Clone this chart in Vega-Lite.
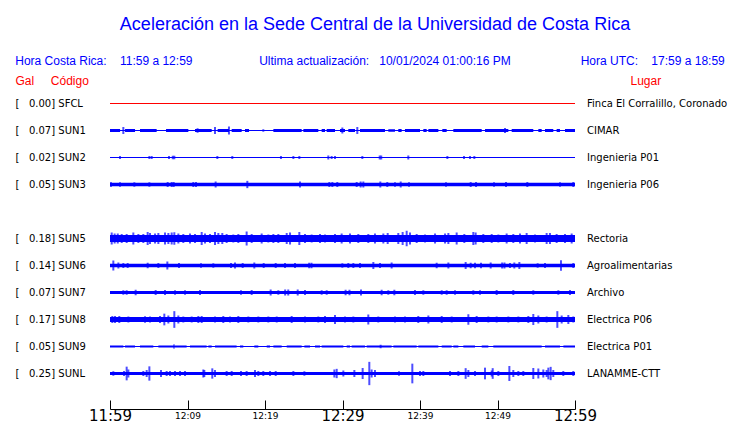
{
  "$schema": "https://vega.github.io/schema/vega-lite/v6.json",
  "width": 465,
  "height": 297,
  "autosize": {"type": "none"},
  "padding": {"top": 90, "left": 110, "right": 165, "bottom": 36},
  "background": "white",
  "view": {"stroke": null},
  "title": {
    "text": "Aceleración en la Sede Central de la Universidad de Costa Rica",
    "subtitle": "Hora Costa Rica:\u00a0\u00a0\u00a0\u00a011:59 a 12:59\u00a0\u00a0\u00a0\u00a0\u00a0\u00a0\u00a0\u00a0\u00a0\u00a0\u00a0\u00a0\u00a0\u00a0\u00a0\u00a0\u00a0\u00a0\u00a0\u00a0Ultima actualización:\u00a0\u00a0\u00a010/01/2024 01:00:16 PM\u00a0\u00a0\u00a0\u00a0\u00a0\u00a0\u00a0\u00a0\u00a0\u00a0\u00a0\u00a0\u00a0\u00a0\u00a0\u00a0\u00a0\u00a0\u00a0\u00a0\u00a0Hora UTC:\u00a0\u00a0\u00a0\u00a017:59 a 18:59\u00a0\u00a0\u00a0\u200b",
    "anchor": "middle",
    "frame": "group",
    "dx": 32.5,
    "font": "Liberation Sans",
    "fontSize": 18,
    "fontWeight": "normal",
    "color": "#0000ff",
    "subtitleFont": "Liberation Sans",
    "subtitleFontSize": 12,
    "subtitleColor": "#0000ff",
    "subtitlePadding": 22,
    "offset": 8
  },
  "datasets": {
    "estaciones": [
      {"codigo": "SFCL", "etiqueta": "[\u00a0\u00a0\u00a00.00] SFCL", "lugar": "Finca El Corralillo, Coronado"},
      {"codigo": "SUN1", "etiqueta": "[\u00a0\u00a0\u00a00.07] SUN1", "lugar": "CIMAR"},
      {"codigo": "SUN2", "etiqueta": "[\u00a0\u00a0\u00a00.02] SUN2", "lugar": "Ingenieria P01"},
      {"codigo": "SUN3", "etiqueta": "[\u00a0\u00a0\u00a00.05] SUN3", "lugar": "Ingenieria P06"},
      {"codigo": "SUN5", "etiqueta": "[\u00a0\u00a0\u00a00.18] SUN5", "lugar": "Rectoria"},
      {"codigo": "SUN6", "etiqueta": "[\u00a0\u00a0\u00a00.14] SUN6", "lugar": "Agroalimentarias"},
      {"codigo": "SUN7", "etiqueta": "[\u00a0\u00a0\u00a00.07] SUN7", "lugar": "Archivo"},
      {"codigo": "SUN8", "etiqueta": "[\u00a0\u00a0\u00a00.17] SUN8", "lugar": "Electrica P06"},
      {"codigo": "SUN9", "etiqueta": "[\u00a0\u00a0\u00a00.05] SUN9", "lugar": "Electrica P01"},
      {"codigo": "SUNL", "etiqueta": "[\u00a0\u00a0\u00a00.25] SUNL", "lugar": "LANAMME-CTT"}
    ],
    "segmentos": [
      {"codigo": "SFCL", "t0": 0, "t1": 60, "amp": 1},
      {"codigo": "SUN1", "t0": 0, "t1": 60, "amp": 1},
      {"codigo": "SUN1", "t0": 0, "t1": 1.3, "amp": 3},
      {"codigo": "SUN1", "t0": 1.94, "t1": 3.23, "amp": 3},
      {"codigo": "SUN1", "t0": 3.87, "t1": 6.02, "amp": 3},
      {"codigo": "SUN1", "t0": 7.23, "t1": 10.11, "amp": 3},
      {"codigo": "SUN1", "t0": 10.97, "t1": 13.12, "amp": 3},
      {"codigo": "SUN1", "t0": 13.89, "t1": 15.35, "amp": 3},
      {"codigo": "SUN1", "t0": 15.7, "t1": 16.99, "amp": 3},
      {"codigo": "SUN1", "t0": 17.42, "t1": 17.94, "amp": 3},
      {"codigo": "SUN1", "t0": 21.08, "t1": 24.73, "amp": 3},
      {"codigo": "SUN1", "t0": 24.95, "t1": 26.88, "amp": 3},
      {"codigo": "SUN1", "t0": 27.31, "t1": 27.74, "amp": 3},
      {"codigo": "SUN1", "t0": 27.96, "t1": 29.03, "amp": 3},
      {"codigo": "SUN1", "t0": 29.68, "t1": 30.32, "amp": 3},
      {"codigo": "SUN1", "t0": 30.75, "t1": 31.61, "amp": 3},
      {"codigo": "SUN1", "t0": 32.26, "t1": 35.48, "amp": 3},
      {"codigo": "SUN1", "t0": 35.91, "t1": 36.77, "amp": 2.5},
      {"codigo": "SUN1", "t0": 37.2, "t1": 37.63, "amp": 3},
      {"codigo": "SUN1", "t0": 38.06, "t1": 40.0, "amp": 3},
      {"codigo": "SUN1", "t0": 40.43, "t1": 40.86, "amp": 3},
      {"codigo": "SUN1", "t0": 41.08, "t1": 42.37, "amp": 3},
      {"codigo": "SUN1", "t0": 42.88, "t1": 43.44, "amp": 3},
      {"codigo": "SUN1", "t0": 44.3, "t1": 47.96, "amp": 3},
      {"codigo": "SUN1", "t0": 48.39, "t1": 51.4, "amp": 3},
      {"codigo": "SUN1", "t0": 51.83, "t1": 54.62, "amp": 3},
      {"codigo": "SUN1", "t0": 55.27, "t1": 55.7, "amp": 3},
      {"codigo": "SUN1", "t0": 56.13, "t1": 57.2, "amp": 3},
      {"codigo": "SUN1", "t0": 57.63, "t1": 58.06, "amp": 3},
      {"codigo": "SUN1", "t0": 58.71, "t1": 60, "amp": 3},
      {"codigo": "SUN2", "t0": 0, "t1": 60, "amp": 1},
      {"codigo": "SUN3", "t0": 0, "t1": 60, "amp": 3.3},
      {"codigo": "SUN5", "t0": 0, "t1": 60, "amp": 7},
      {"codigo": "SUN6", "t0": 0, "t1": 60, "amp": 3.7},
      {"codigo": "SUN7", "t0": 0, "t1": 60, "amp": 3},
      {"codigo": "SUN8", "t0": 0, "t1": 60, "amp": 5},
      {"codigo": "SUN9", "t0": 0, "t1": 60, "amp": 1},
      {"codigo": "SUN9", "t0": 0, "t1": 1.72, "amp": 2},
      {"codigo": "SUN9", "t0": 1.94, "t1": 3.23, "amp": 2},
      {"codigo": "SUN9", "t0": 3.87, "t1": 5.59, "amp": 2},
      {"codigo": "SUN9", "t0": 6.24, "t1": 8.17, "amp": 2},
      {"codigo": "SUN9", "t0": 8.39, "t1": 9.89, "amp": 2},
      {"codigo": "SUN9", "t0": 10.32, "t1": 12.47, "amp": 2},
      {"codigo": "SUN9", "t0": 12.69, "t1": 13.12, "amp": 2},
      {"codigo": "SUN9", "t0": 13.55, "t1": 16.34, "amp": 2},
      {"codigo": "SUN9", "t0": 16.77, "t1": 17.2, "amp": 2},
      {"codigo": "SUN9", "t0": 18.62, "t1": 19.14, "amp": 2},
      {"codigo": "SUN9", "t0": 20.22, "t1": 20.65, "amp": 2},
      {"codigo": "SUN9", "t0": 21.08, "t1": 22.15, "amp": 2},
      {"codigo": "SUN9", "t0": 22.8, "t1": 24.73, "amp": 2},
      {"codigo": "SUN9", "t0": 25.08, "t1": 25.81, "amp": 2},
      {"codigo": "SUN9", "t0": 26.45, "t1": 27.1, "amp": 2},
      {"codigo": "SUN9", "t0": 27.31, "t1": 30.11, "amp": 2},
      {"codigo": "SUN9", "t0": 30.54, "t1": 30.97, "amp": 2},
      {"codigo": "SUN9", "t0": 31.18, "t1": 32.9, "amp": 2},
      {"codigo": "SUN9", "t0": 33.12, "t1": 36.34, "amp": 2},
      {"codigo": "SUN9", "t0": 36.56, "t1": 39.57, "amp": 2},
      {"codigo": "SUN9", "t0": 39.78, "t1": 42.37, "amp": 2},
      {"codigo": "SUN9", "t0": 42.8, "t1": 44.09, "amp": 2},
      {"codigo": "SUN9", "t0": 44.3, "t1": 44.95, "amp": 2},
      {"codigo": "SUN9", "t0": 45.59, "t1": 47.1, "amp": 2},
      {"codigo": "SUN9", "t0": 47.96, "t1": 48.82, "amp": 2},
      {"codigo": "SUN9", "t0": 49.46, "t1": 55.7, "amp": 2},
      {"codigo": "SUN9", "t0": 56.13, "t1": 58.06, "amp": 2},
      {"codigo": "SUN9", "t0": 58.5, "t1": 60, "amp": 2},
      {"codigo": "SUNL", "t0": 0, "t1": 60, "amp": 3}
    ],
    "picos": [
      {"codigo": "SUN1", "t": 1.72, "amp": 7},
      {"codigo": "SUN1", "t": 11.3, "amp": 4.5},
      {"codigo": "SUN1", "t": 13.55, "amp": 7},
      {"codigo": "SUN1", "t": 15.35, "amp": 8},
      {"codigo": "SUN1", "t": 19.78, "amp": 2.5},
      {"codigo": "SUN1", "t": 29.98, "amp": 6},
      {"codigo": "SUN1", "t": 31.91, "amp": 7},
      {"codigo": "SUN1", "t": 50.97, "amp": 5},
      {"codigo": "SUN2", "t": 1.29, "amp": 3},
      {"codigo": "SUN2", "t": 5.08, "amp": 3},
      {"codigo": "SUN2", "t": 5.38, "amp": 3},
      {"codigo": "SUN2", "t": 7.61, "amp": 3},
      {"codigo": "SUN2", "t": 8.1, "amp": 3.5},
      {"codigo": "SUN2", "t": 8.3, "amp": 3.5},
      {"codigo": "SUN2", "t": 13.85, "amp": 3},
      {"codigo": "SUN2", "t": 15.78, "amp": 3},
      {"codigo": "SUN2", "t": 22.06, "amp": 3},
      {"codigo": "SUN2", "t": 23.66, "amp": 3},
      {"codigo": "SUN2", "t": 24.43, "amp": 3},
      {"codigo": "SUN2", "t": 28.17, "amp": 4},
      {"codigo": "SUN2", "t": 28.6, "amp": 3},
      {"codigo": "SUN2", "t": 29.03, "amp": 3},
      {"codigo": "SUN2", "t": 32.56, "amp": 3},
      {"codigo": "SUN2", "t": 34.8, "amp": 4},
      {"codigo": "SUN2", "t": 35.0, "amp": 4},
      {"codigo": "SUN2", "t": 38.49, "amp": 4},
      {"codigo": "SUN2", "t": 43.53, "amp": 3},
      {"codigo": "SUN2", "t": 45.68, "amp": 3},
      {"codigo": "SUN2", "t": 46.45, "amp": 3},
      {"codigo": "SUN2", "t": 47.01, "amp": 3},
      {"codigo": "SUN3", "t": 0.13, "amp": 4.7},
      {"codigo": "SUN3", "t": 1.29, "amp": 4.5},
      {"codigo": "SUN3", "t": 3.14, "amp": 4.5},
      {"codigo": "SUN3", "t": 5.08, "amp": 4.5},
      {"codigo": "SUN3", "t": 7.44, "amp": 5},
      {"codigo": "SUN3", "t": 7.96, "amp": 5},
      {"codigo": "SUN3", "t": 8.22, "amp": 5},
      {"codigo": "SUN3", "t": 10.75, "amp": 5},
      {"codigo": "SUN3", "t": 11.1, "amp": 5},
      {"codigo": "SUN3", "t": 13.63, "amp": 6},
      {"codigo": "SUN3", "t": 17.72, "amp": 7.3},
      {"codigo": "SUN3", "t": 24.52, "amp": 6},
      {"codigo": "SUN3", "t": 28.3, "amp": 5},
      {"codigo": "SUN3", "t": 28.69, "amp": 5},
      {"codigo": "SUN3", "t": 29.33, "amp": 5},
      {"codigo": "SUN3", "t": 31.83, "amp": 5},
      {"codigo": "SUN3", "t": 32.34, "amp": 6},
      {"codigo": "SUN3", "t": 32.69, "amp": 6},
      {"codigo": "SUN3", "t": 34.88, "amp": 6},
      {"codigo": "SUN3", "t": 35.78, "amp": 5},
      {"codigo": "SUN3", "t": 36.77, "amp": 4.5},
      {"codigo": "SUN3", "t": 37.51, "amp": 6},
      {"codigo": "SUN3", "t": 38.58, "amp": 4.5},
      {"codigo": "SUN3", "t": 43.35, "amp": 4.5},
      {"codigo": "SUN3", "t": 46.54, "amp": 5},
      {"codigo": "SUN3", "t": 47.23, "amp": 5},
      {"codigo": "SUN3", "t": 49.55, "amp": 4.5},
      {"codigo": "SUN3", "t": 51.1, "amp": 5},
      {"codigo": "SUN3", "t": 53.85, "amp": 5},
      {"codigo": "SUN3", "t": 58.06, "amp": 4.5},
      {"codigo": "SUN3", "t": 59.78, "amp": 5},
      {"codigo": "SUN5", "t": 0.22, "amp": 12},
      {"codigo": "SUN5", "t": 0.6, "amp": 10},
      {"codigo": "SUN5", "t": 1.0, "amp": 10},
      {"codigo": "SUN5", "t": 1.51, "amp": 9},
      {"codigo": "SUN5", "t": 2.15, "amp": 9},
      {"codigo": "SUN5", "t": 3.01, "amp": 12},
      {"codigo": "SUN5", "t": 3.66, "amp": 9},
      {"codigo": "SUN5", "t": 4.3, "amp": 9},
      {"codigo": "SUN5", "t": 4.86, "amp": 13},
      {"codigo": "SUN5", "t": 5.16, "amp": 11},
      {"codigo": "SUN5", "t": 5.81, "amp": 10},
      {"codigo": "SUN5", "t": 6.24, "amp": 11},
      {"codigo": "SUN5", "t": 7.1, "amp": 12},
      {"codigo": "SUN5", "t": 7.53, "amp": 11},
      {"codigo": "SUN5", "t": 7.96, "amp": 12},
      {"codigo": "SUN5", "t": 8.3, "amp": 12.5},
      {"codigo": "SUN5", "t": 8.82, "amp": 10},
      {"codigo": "SUN5", "t": 9.46, "amp": 9},
      {"codigo": "SUN5", "t": 10.32, "amp": 10},
      {"codigo": "SUN5", "t": 10.97, "amp": 9},
      {"codigo": "SUN5", "t": 11.83, "amp": 13},
      {"codigo": "SUN5", "t": 12.26, "amp": 10},
      {"codigo": "SUN5", "t": 12.9, "amp": 9},
      {"codigo": "SUN5", "t": 13.55, "amp": 13},
      {"codigo": "SUN5", "t": 13.98, "amp": 11},
      {"codigo": "SUN5", "t": 14.49, "amp": 11},
      {"codigo": "SUN5", "t": 15.05, "amp": 9},
      {"codigo": "SUN5", "t": 15.91, "amp": 8},
      {"codigo": "SUN5", "t": 16.56, "amp": 9},
      {"codigo": "SUN5", "t": 17.63, "amp": 14},
      {"codigo": "SUN5", "t": 18.28, "amp": 9},
      {"codigo": "SUN5", "t": 19.57, "amp": 10},
      {"codigo": "SUN5", "t": 20.43, "amp": 8},
      {"codigo": "SUN5", "t": 21.08, "amp": 9},
      {"codigo": "SUN5", "t": 21.72, "amp": 9},
      {"codigo": "SUN5", "t": 22.8, "amp": 11},
      {"codigo": "SUN5", "t": 23.23, "amp": 12},
      {"codigo": "SUN5", "t": 24.43, "amp": 13},
      {"codigo": "SUN5", "t": 25.16, "amp": 9},
      {"codigo": "SUN5", "t": 26.02, "amp": 8},
      {"codigo": "SUN5", "t": 27.1, "amp": 9},
      {"codigo": "SUN5", "t": 27.74, "amp": 8},
      {"codigo": "SUN5", "t": 29.03, "amp": 9},
      {"codigo": "SUN5", "t": 29.89, "amp": 10},
      {"codigo": "SUN5", "t": 30.97, "amp": 10},
      {"codigo": "SUN5", "t": 32.04, "amp": 9},
      {"codigo": "SUN5", "t": 33.33, "amp": 9},
      {"codigo": "SUN5", "t": 34.19, "amp": 10},
      {"codigo": "SUN5", "t": 35.27, "amp": 10},
      {"codigo": "SUN5", "t": 35.83, "amp": 11},
      {"codigo": "SUN5", "t": 37.2, "amp": 11},
      {"codigo": "SUN5", "t": 37.76, "amp": 13},
      {"codigo": "SUN5", "t": 38.28, "amp": 15.5},
      {"codigo": "SUN5", "t": 38.71, "amp": 12},
      {"codigo": "SUN5", "t": 39.57, "amp": 9},
      {"codigo": "SUN5", "t": 40.65, "amp": 8},
      {"codigo": "SUN5", "t": 41.94, "amp": 10},
      {"codigo": "SUN5", "t": 43.23, "amp": 10},
      {"codigo": "SUN5", "t": 43.66, "amp": 11},
      {"codigo": "SUN5", "t": 44.73, "amp": 12},
      {"codigo": "SUN5", "t": 45.72, "amp": 9},
      {"codigo": "SUN5", "t": 46.88, "amp": 13},
      {"codigo": "SUN5", "t": 47.18, "amp": 12},
      {"codigo": "SUN5", "t": 48.17, "amp": 9},
      {"codigo": "SUN5", "t": 49.25, "amp": 9},
      {"codigo": "SUN5", "t": 50.11, "amp": 8},
      {"codigo": "SUN5", "t": 51.18, "amp": 10},
      {"codigo": "SUN5", "t": 52.04, "amp": 9},
      {"codigo": "SUN5", "t": 52.9, "amp": 10},
      {"codigo": "SUN5", "t": 53.76, "amp": 11},
      {"codigo": "SUN5", "t": 54.84, "amp": 8},
      {"codigo": "SUN5", "t": 56.34, "amp": 11},
      {"codigo": "SUN5", "t": 56.77, "amp": 11},
      {"codigo": "SUN5", "t": 57.63, "amp": 9},
      {"codigo": "SUN5", "t": 58.71, "amp": 9},
      {"codigo": "SUN5", "t": 59.57, "amp": 10},
      {"codigo": "SUN6", "t": 0.43, "amp": 10},
      {"codigo": "SUN6", "t": 1.08, "amp": 6},
      {"codigo": "SUN6", "t": 1.72, "amp": 5},
      {"codigo": "SUN6", "t": 2.28, "amp": 5},
      {"codigo": "SUN6", "t": 4.86, "amp": 5.5},
      {"codigo": "SUN6", "t": 6.24, "amp": 5},
      {"codigo": "SUN6", "t": 7.4, "amp": 8},
      {"codigo": "SUN6", "t": 8.9, "amp": 5},
      {"codigo": "SUN6", "t": 11.74, "amp": 4.5},
      {"codigo": "SUN6", "t": 13.33, "amp": 4.5},
      {"codigo": "SUN6", "t": 15.61, "amp": 5},
      {"codigo": "SUN6", "t": 16.13, "amp": 6},
      {"codigo": "SUN6", "t": 17.12, "amp": 5},
      {"codigo": "SUN6", "t": 18.62, "amp": 6},
      {"codigo": "SUN6", "t": 19.83, "amp": 5},
      {"codigo": "SUN6", "t": 21.38, "amp": 5},
      {"codigo": "SUN6", "t": 22.58, "amp": 5},
      {"codigo": "SUN6", "t": 23.87, "amp": 5},
      {"codigo": "SUN6", "t": 25.7, "amp": 5.5},
      {"codigo": "SUN6", "t": 26.0, "amp": 5.5},
      {"codigo": "SUN6", "t": 29.98, "amp": 4.5},
      {"codigo": "SUN6", "t": 30.75, "amp": 5},
      {"codigo": "SUN6", "t": 31.4, "amp": 5},
      {"codigo": "SUN6", "t": 32.26, "amp": 5},
      {"codigo": "SUN6", "t": 33.98, "amp": 7},
      {"codigo": "SUN6", "t": 34.84, "amp": 5},
      {"codigo": "SUN6", "t": 36.34, "amp": 6},
      {"codigo": "SUN6", "t": 42.15, "amp": 5.5},
      {"codigo": "SUN6", "t": 43.66, "amp": 6},
      {"codigo": "SUN6", "t": 45.89, "amp": 7},
      {"codigo": "SUN6", "t": 46.54, "amp": 5.5},
      {"codigo": "SUN6", "t": 47.1, "amp": 5.5},
      {"codigo": "SUN6", "t": 47.87, "amp": 5.5},
      {"codigo": "SUN6", "t": 49.12, "amp": 6},
      {"codigo": "SUN6", "t": 50.6, "amp": 6},
      {"codigo": "SUN6", "t": 50.9, "amp": 6},
      {"codigo": "SUN6", "t": 51.61, "amp": 5},
      {"codigo": "SUN6", "t": 52.17, "amp": 6},
      {"codigo": "SUN6", "t": 52.82, "amp": 7},
      {"codigo": "SUN6", "t": 55.18, "amp": 4.5},
      {"codigo": "SUN6", "t": 56.13, "amp": 5},
      {"codigo": "SUN6", "t": 58.19, "amp": 10.5},
      {"codigo": "SUN6", "t": 59.78, "amp": 5},
      {"codigo": "SUN7", "t": 1.72, "amp": 4.5},
      {"codigo": "SUN7", "t": 2.15, "amp": 4.5},
      {"codigo": "SUN7", "t": 3.31, "amp": 5.5},
      {"codigo": "SUN7", "t": 5.89, "amp": 5},
      {"codigo": "SUN7", "t": 7.1, "amp": 5},
      {"codigo": "SUN7", "t": 8.39, "amp": 4.5},
      {"codigo": "SUN7", "t": 9.68, "amp": 4.5},
      {"codigo": "SUN7", "t": 11.61, "amp": 5},
      {"codigo": "SUN7", "t": 16.9, "amp": 4.5},
      {"codigo": "SUN7", "t": 18.28, "amp": 5},
      {"codigo": "SUN7", "t": 20.73, "amp": 6},
      {"codigo": "SUN7", "t": 21.72, "amp": 4.5},
      {"codigo": "SUN7", "t": 22.6, "amp": 6},
      {"codigo": "SUN7", "t": 23.0, "amp": 6},
      {"codigo": "SUN7", "t": 24.22, "amp": 6},
      {"codigo": "SUN7", "t": 25.16, "amp": 5},
      {"codigo": "SUN7", "t": 27.31, "amp": 4.5},
      {"codigo": "SUN7", "t": 27.96, "amp": 4.5},
      {"codigo": "SUN7", "t": 30.4, "amp": 5.5},
      {"codigo": "SUN7", "t": 30.9, "amp": 5.5},
      {"codigo": "SUN7", "t": 32.39, "amp": 6},
      {"codigo": "SUN7", "t": 35.05, "amp": 5.5},
      {"codigo": "SUN7", "t": 35.91, "amp": 4.5},
      {"codigo": "SUN7", "t": 36.69, "amp": 5.5},
      {"codigo": "SUN7", "t": 39.35, "amp": 5},
      {"codigo": "SUN7", "t": 40.43, "amp": 4.5},
      {"codigo": "SUN7", "t": 42.8, "amp": 4.5},
      {"codigo": "SUN7", "t": 43.44, "amp": 4.5},
      {"codigo": "SUN7", "t": 44.52, "amp": 4.5},
      {"codigo": "SUN7", "t": 46.88, "amp": 4.5},
      {"codigo": "SUN7", "t": 47.74, "amp": 4.5},
      {"codigo": "SUN7", "t": 49.89, "amp": 5},
      {"codigo": "SUN7", "t": 52.04, "amp": 5},
      {"codigo": "SUN7", "t": 54.62, "amp": 4.5},
      {"codigo": "SUN7", "t": 57.85, "amp": 4.5},
      {"codigo": "SUN7", "t": 59.35, "amp": 5},
      {"codigo": "SUN8", "t": 0.3, "amp": 7},
      {"codigo": "SUN8", "t": 0.65, "amp": 7},
      {"codigo": "SUN8", "t": 1.2, "amp": 7},
      {"codigo": "SUN8", "t": 2.37, "amp": 6},
      {"codigo": "SUN8", "t": 4.52, "amp": 6.5},
      {"codigo": "SUN8", "t": 5.16, "amp": 6},
      {"codigo": "SUN8", "t": 6.45, "amp": 7},
      {"codigo": "SUN8", "t": 7.01, "amp": 11.7},
      {"codigo": "SUN8", "t": 7.53, "amp": 8},
      {"codigo": "SUN8", "t": 8.3, "amp": 16.7},
      {"codigo": "SUN8", "t": 8.82, "amp": 8},
      {"codigo": "SUN8", "t": 9.46, "amp": 6},
      {"codigo": "SUN8", "t": 10.54, "amp": 6},
      {"codigo": "SUN8", "t": 11.4, "amp": 7},
      {"codigo": "SUN8", "t": 11.83, "amp": 7},
      {"codigo": "SUN8", "t": 13.55, "amp": 6},
      {"codigo": "SUN8", "t": 14.62, "amp": 7},
      {"codigo": "SUN8", "t": 15.48, "amp": 6},
      {"codigo": "SUN8", "t": 16.56, "amp": 7},
      {"codigo": "SUN8", "t": 17.85, "amp": 6},
      {"codigo": "SUN8", "t": 19.14, "amp": 6},
      {"codigo": "SUN8", "t": 20.43, "amp": 6},
      {"codigo": "SUN8", "t": 21.51, "amp": 6},
      {"codigo": "SUN8", "t": 23.44, "amp": 7},
      {"codigo": "SUN8", "t": 25.16, "amp": 6},
      {"codigo": "SUN8", "t": 26.88, "amp": 6},
      {"codigo": "SUN8", "t": 27.74, "amp": 7},
      {"codigo": "SUN8", "t": 29.03, "amp": 9},
      {"codigo": "SUN8", "t": 30.32, "amp": 6},
      {"codigo": "SUN8", "t": 31.4, "amp": 6},
      {"codigo": "SUN8", "t": 33.33, "amp": 10},
      {"codigo": "SUN8", "t": 34.62, "amp": 6},
      {"codigo": "SUN8", "t": 36.77, "amp": 6},
      {"codigo": "SUN8", "t": 38.06, "amp": 6},
      {"codigo": "SUN8", "t": 39.78, "amp": 7},
      {"codigo": "SUN8", "t": 41.08, "amp": 8},
      {"codigo": "SUN8", "t": 42.8, "amp": 7},
      {"codigo": "SUN8", "t": 44.09, "amp": 6},
      {"codigo": "SUN8", "t": 46.24, "amp": 10.5},
      {"codigo": "SUN8", "t": 47.31, "amp": 7},
      {"codigo": "SUN8", "t": 48.82, "amp": 6},
      {"codigo": "SUN8", "t": 49.89, "amp": 6},
      {"codigo": "SUN8", "t": 51.4, "amp": 6},
      {"codigo": "SUN8", "t": 52.69, "amp": 6},
      {"codigo": "SUN8", "t": 53.98, "amp": 7},
      {"codigo": "SUN8", "t": 54.62, "amp": 11},
      {"codigo": "SUN8", "t": 55.27, "amp": 8},
      {"codigo": "SUN8", "t": 56.34, "amp": 6},
      {"codigo": "SUN8", "t": 57.72, "amp": 16.7},
      {"codigo": "SUN8", "t": 58.28, "amp": 8},
      {"codigo": "SUN8", "t": 59.14, "amp": 9},
      {"codigo": "SUN8", "t": 59.78, "amp": 6},
      {"codigo": "SUN9", "t": 8.26, "amp": 4},
      {"codigo": "SUN9", "t": 34.92, "amp": 3.5},
      {"codigo": "SUNL", "t": 0.43, "amp": 4.5},
      {"codigo": "SUNL", "t": 1.81, "amp": 5},
      {"codigo": "SUNL", "t": 2.15, "amp": 13.7},
      {"codigo": "SUNL", "t": 2.37, "amp": 8},
      {"codigo": "SUNL", "t": 4.3, "amp": 5},
      {"codigo": "SUNL", "t": 4.73, "amp": 7},
      {"codigo": "SUNL", "t": 5.08, "amp": 14.3},
      {"codigo": "SUNL", "t": 6.58, "amp": 7},
      {"codigo": "SUNL", "t": 7.31, "amp": 5},
      {"codigo": "SUNL", "t": 7.74, "amp": 5},
      {"codigo": "SUNL", "t": 8.39, "amp": 5},
      {"codigo": "SUNL", "t": 9.03, "amp": 5},
      {"codigo": "SUNL", "t": 9.68, "amp": 5},
      {"codigo": "SUNL", "t": 12.04, "amp": 8},
      {"codigo": "SUNL", "t": 12.17, "amp": 7},
      {"codigo": "SUNL", "t": 13.2, "amp": 10.3},
      {"codigo": "SUNL", "t": 13.55, "amp": 7},
      {"codigo": "SUNL", "t": 15.05, "amp": 5},
      {"codigo": "SUNL", "t": 15.7, "amp": 5},
      {"codigo": "SUNL", "t": 16.9, "amp": 5},
      {"codigo": "SUNL", "t": 17.63, "amp": 5},
      {"codigo": "SUNL", "t": 18.71, "amp": 7},
      {"codigo": "SUNL", "t": 19.14, "amp": 5},
      {"codigo": "SUNL", "t": 19.78, "amp": 5},
      {"codigo": "SUNL", "t": 20.65, "amp": 5},
      {"codigo": "SUNL", "t": 21.38, "amp": 5},
      {"codigo": "SUNL", "t": 23.66, "amp": 5},
      {"codigo": "SUNL", "t": 25.08, "amp": 4.5},
      {"codigo": "SUNL", "t": 28.95, "amp": 8},
      {"codigo": "SUNL", "t": 29.25, "amp": 9.3},
      {"codigo": "SUNL", "t": 30.11, "amp": 6},
      {"codigo": "SUNL", "t": 31.53, "amp": 7},
      {"codigo": "SUNL", "t": 32.6, "amp": 11},
      {"codigo": "SUNL", "t": 33.46, "amp": 23.3},
      {"codigo": "SUNL", "t": 33.76, "amp": 8},
      {"codigo": "SUNL", "t": 34.19, "amp": 7},
      {"codigo": "SUNL", "t": 37.29, "amp": 4.5},
      {"codigo": "SUNL", "t": 39.01, "amp": 19.7},
      {"codigo": "SUNL", "t": 40.0, "amp": 5},
      {"codigo": "SUNL", "t": 40.43, "amp": 5},
      {"codigo": "SUNL", "t": 43.87, "amp": 5},
      {"codigo": "SUNL", "t": 44.95, "amp": 5},
      {"codigo": "SUNL", "t": 45.89, "amp": 10.7},
      {"codigo": "SUNL", "t": 46.24, "amp": 7},
      {"codigo": "SUNL", "t": 47.1, "amp": 5},
      {"codigo": "SUNL", "t": 48.39, "amp": 11.7},
      {"codigo": "SUNL", "t": 49.25, "amp": 6},
      {"codigo": "SUNL", "t": 49.38, "amp": 10.7},
      {"codigo": "SUNL", "t": 50.11, "amp": 5},
      {"codigo": "SUNL", "t": 51.53, "amp": 15},
      {"codigo": "SUNL", "t": 52.04, "amp": 7},
      {"codigo": "SUNL", "t": 52.69, "amp": 5},
      {"codigo": "SUNL", "t": 53.33, "amp": 5},
      {"codigo": "SUNL", "t": 54.62, "amp": 11},
      {"codigo": "SUNL", "t": 55.27, "amp": 10},
      {"codigo": "SUNL", "t": 55.91, "amp": 8},
      {"codigo": "SUNL", "t": 56.34, "amp": 7},
      {"codigo": "SUNL", "t": 56.56, "amp": 11.7},
      {"codigo": "SUNL", "t": 56.86, "amp": 13.3},
      {"codigo": "SUNL", "t": 57.2, "amp": 7},
      {"codigo": "SUNL", "t": 58.49, "amp": 5},
      {"codigo": "SUNL", "t": 59.78, "amp": 5}
    ]
  },
  "layer": [
    {
      "data": {"name": "segmentos"},
      "transform": [
        {"lookup": "codigo", "from": {"data": {"name": "estaciones"}, "key": "codigo", "fields": ["etiqueta"]}}
      ],
      "mark": {"type": "bar", "orient": "horizontal"},
      "encoding": {
        "x": {
          "field": "t0",
          "type": "quantitative",
          "scale": {"domain": [0, 60], "nice": false, "zero": false},
          "axis": {
            "orient": "bottom",
            "title": null,
            "offset": 22,
            "values": [0, 5, 10, 15, 20, 25, 30, 35, 40, 45, 50, 55, 60],
            "labelExpr": "datum.value % 10 != 0 ? '' : floor((719 + datum.value) / 60) + ':' + (((719 + datum.value) % 60) < 10 ? '0' : '') + ((719 + datum.value) % 60)",
            "labelFontSize": {"condition": {"test": "datum.value % 30 == 0", "value": 15}, "value": 9},
            "labelFont": "DejaVu Sans",
            "labelColor": "#000000",
            "labelBaseline": "middle",
            "labelPadding": 15,
            "labelFlush": false,
            "labelOverlap": false,
            "labelBound": false,
            "tickSize": -9,
            "tickColor": "#000000",
            "tickWidth": 1,
            "domainColor": "#000000",
            "domainWidth": 1,
            "grid": false
          }
        },
        "x2": {"field": "t1"},
        "y": {
          "field": "etiqueta",
          "type": "nominal",
          "scale": {
            "type": "band",
            "paddingInner": 0,
            "paddingOuter": 0,
            "domain": [
              "[\u00a0\u00a0\u00a00.00] SFCL",
              "[\u00a0\u00a0\u00a00.07] SUN1",
              "[\u00a0\u00a0\u00a00.02] SUN2",
              "[\u00a0\u00a0\u00a00.05] SUN3",
              "\u00a0",
              "[\u00a0\u00a0\u00a00.18] SUN5",
              "[\u00a0\u00a0\u00a00.14] SUN6",
              "[\u00a0\u00a0\u00a00.07] SUN7",
              "[\u00a0\u00a0\u00a00.17] SUN8",
              "[\u00a0\u00a0\u00a00.05] SUN9",
              "[\u00a0\u00a0\u00a00.25] SUNL"
            ]
          },
          "axis": {
            "orient": "left",
            "domain": false,
            "ticks": false,
            "tickSize": 0,
            "labelAlign": "left",
            "labelBaseline": "middle",
            "labelPadding": 95,
            "labelFont": "DejaVu Sans",
            "labelFontSize": 10,
            "labelColor": "#000000",
            "title": "Gal\u00a0\u00a0\u00a0\u00a0\u00a0Código",
            "titleAngle": 0,
            "titleAlign": "left",
            "titleBaseline": "middle",
            "titleX": -95,
            "titleY": -9.5,
            "titleFont": "Liberation Sans",
            "titleFontSize": 12,
            "titleFontWeight": "normal",
            "titleColor": "#ff0000",
            "grid": false
          }
        },
        "size": {
          "field": "amp",
          "type": "quantitative",
          "scale": {"type": "linear", "domain": [0, 30], "range": [0, 30], "zero": true},
          "legend": null
        },
        "color": {
          "condition": {"test": "datum.codigo === 'SFCL'", "value": "#ff0000"},
          "value": "#0000ff"
        }
      }
    },
    {
      "data": {"name": "picos"},
      "transform": [
        {"lookup": "codigo", "from": {"data": {"name": "estaciones"}, "key": "codigo", "fields": ["etiqueta"]}}
      ],
      "mark": {"type": "tick", "orient": "vertical", "thickness": 2},
      "encoding": {
        "x": {"field": "t", "type": "quantitative"},
        "y": {"field": "etiqueta", "type": "nominal", "axis": null},
        "size": {"field": "amp", "type": "quantitative", "legend": null},
        "color": {"value": "#0000ff"}
      }
    },
    {
      "data": {"name": "estaciones"},
      "mark": {
        "type": "text",
        "align": "left",
        "baseline": "middle",
        "dx": 12,
        "font": "DejaVu Sans",
        "fontSize": 10,
        "color": "#000000"
      },
      "encoding": {
        "x": {"datum": 60},
        "y": {
          "field": "etiqueta",
          "type": "nominal",
          "axis": {
            "orient": "right",
            "domain": false,
            "ticks": false,
            "labels": false,
            "title": "Lugar",
            "titleAngle": 0,
            "titleAlign": "left",
            "titleBaseline": "middle",
            "titleX": 55,
            "titleY": -9.5,
            "titleFont": "Liberation Sans",
            "titleFontSize": 12,
            "titleFontWeight": "normal",
            "titleColor": "#ff0000",
            "grid": false
          }
        },
        "text": {"field": "lugar"}
      }
    }
  ]
}
